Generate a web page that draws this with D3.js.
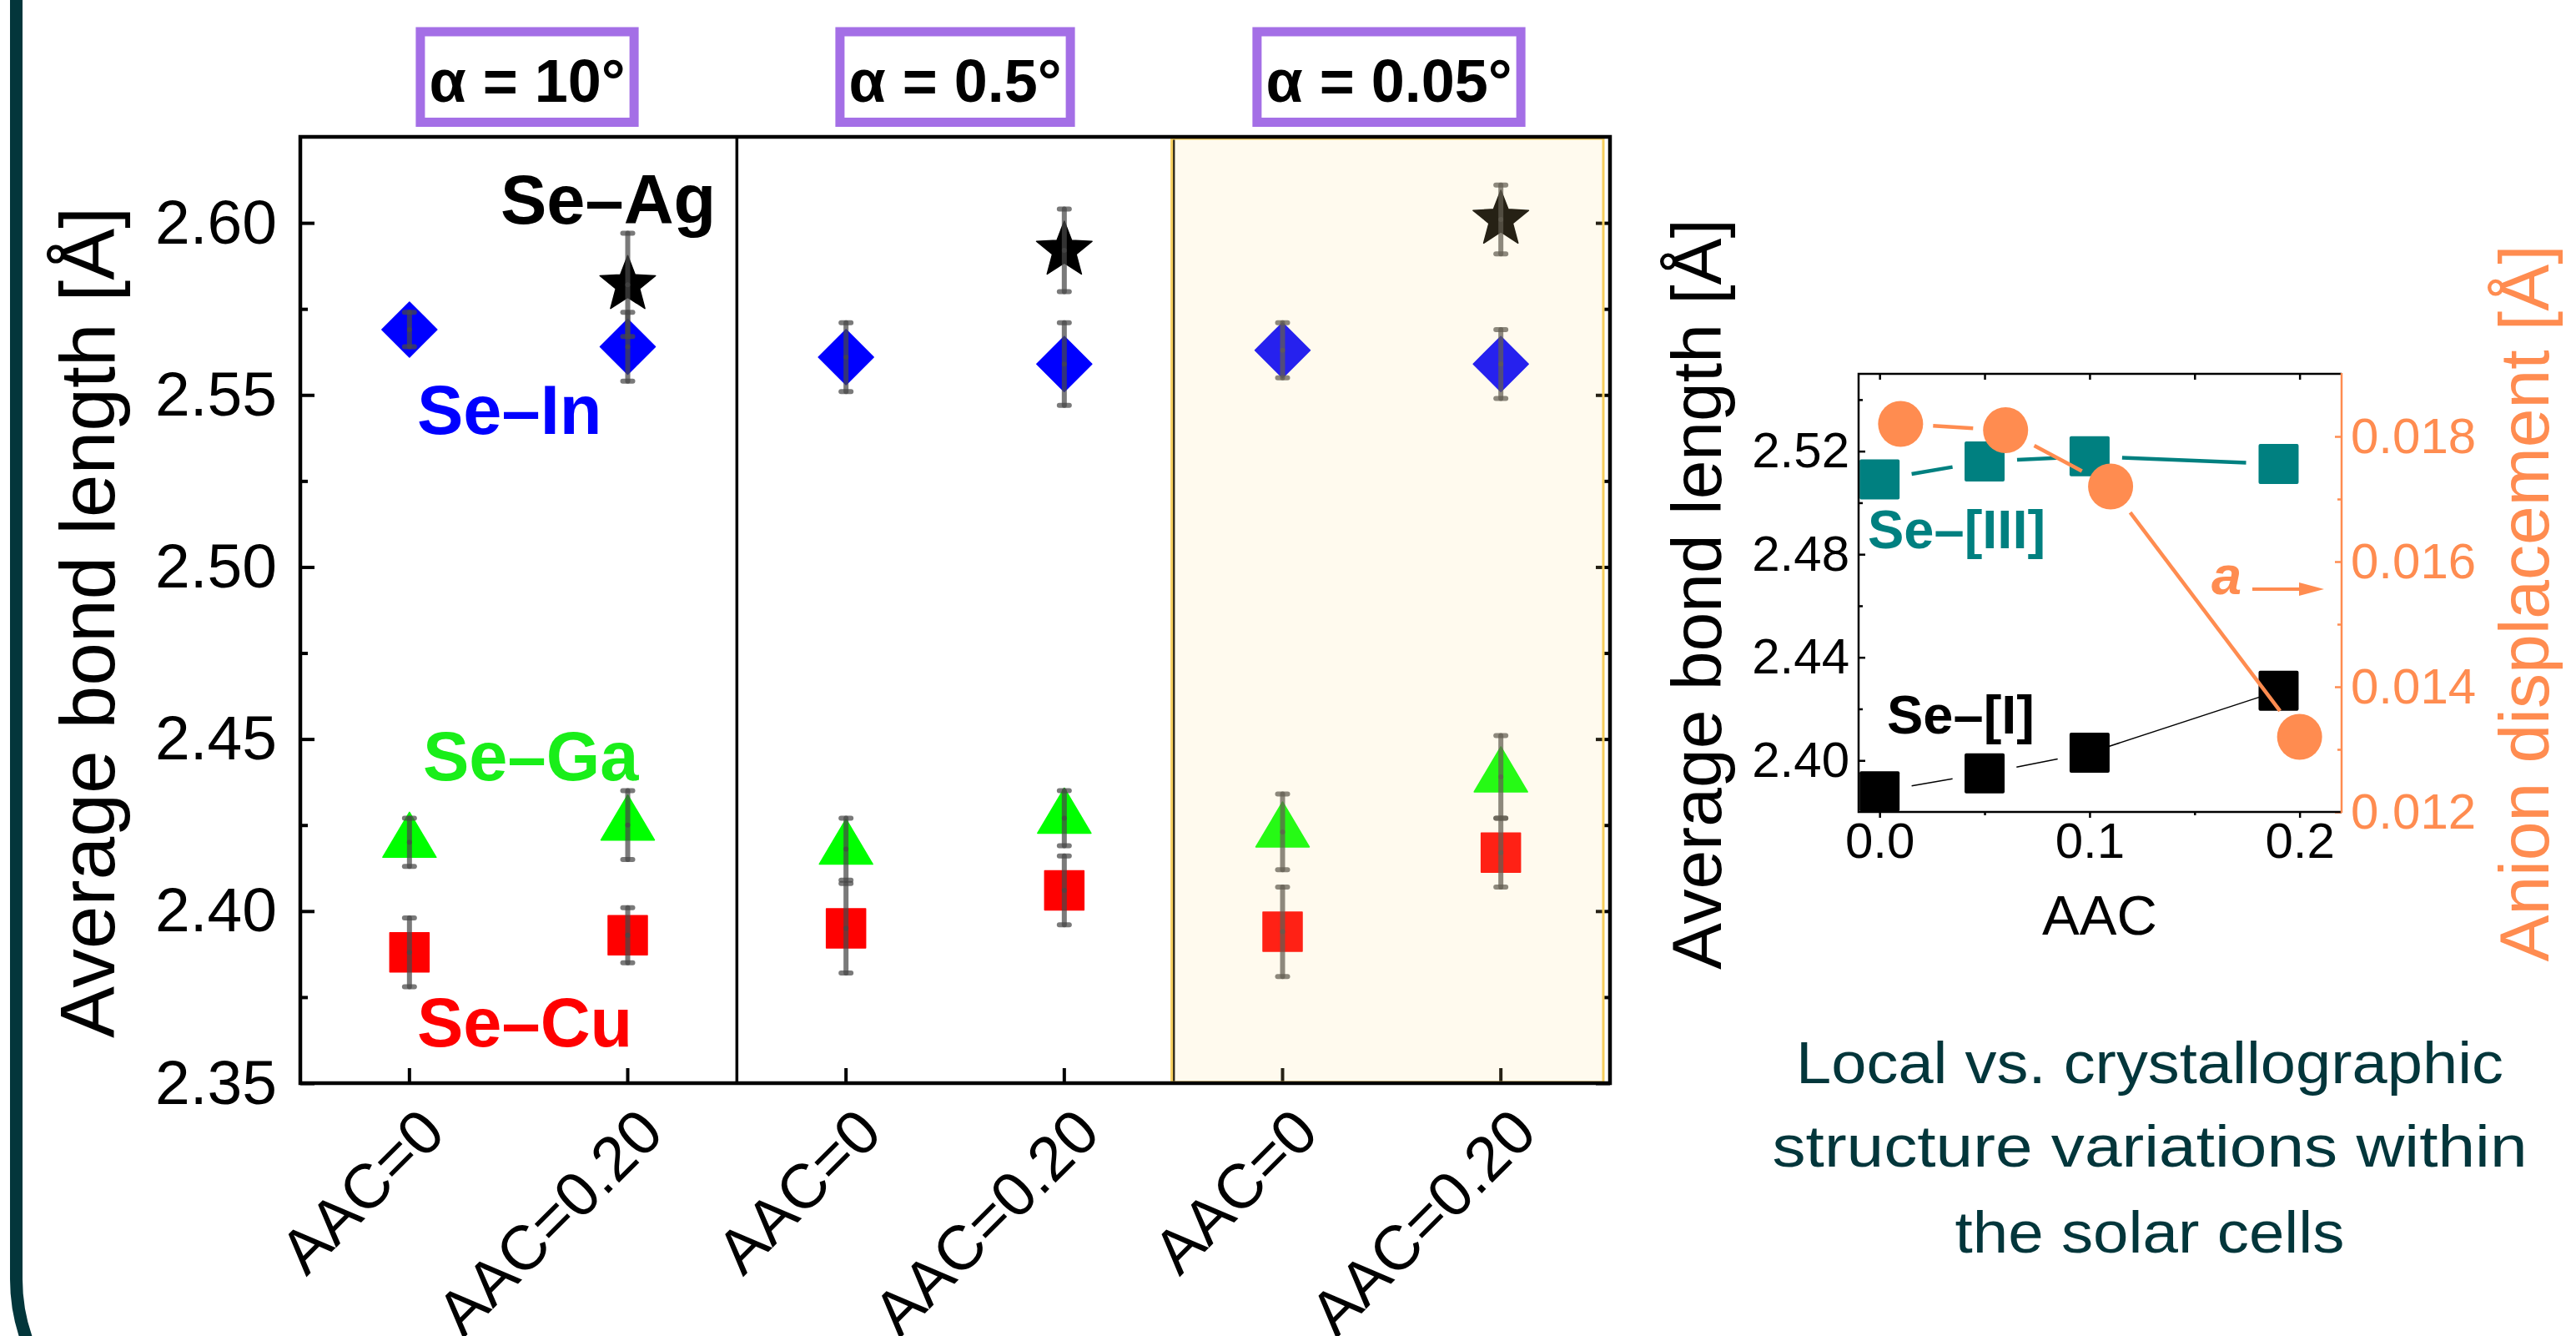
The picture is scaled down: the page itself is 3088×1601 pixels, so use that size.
<!DOCTYPE html>
<html>
<head>
<meta charset="utf-8">
<script src="https://cdn.jsdelivr.net/npm/d3@7"></script>
<style>
  html, body { margin: 0; padding: 0; background: #ffffff; }
  svg { display: block; }
  text { font-family: "Liberation Sans", Arial, sans-serif; }
</style>
</head>
<body>
<svg id="chart" width="3088" height="1601"></svg>
<script>
// ---------------- data: bond lengths per sample (main panel) ----------------
const categories  = ["AAC=0", "AAC=0.20", "AAC=0", "AAC=0.20", "AAC=0", "AAC=0.20"];
const panelTitles = ["α = 10°", "α = 0.5°", "α = 0.05°"];

const seIn    = [2.569, 2.564, 2.561, 2.559, 2.563, 2.559];
const seInErr = [0.005, 0.010, 0.010, 0.012, 0.008, 0.010];
const seAg    = [null, 2.582, null, 2.592, null, 2.601];
const seAgErr = [null, 0.015, null, 0.012, null, 0.010];
const seGa    = [2.420, 2.425, 2.418, 2.427, 2.423, 2.439];
const seGaErr = [0.007, 0.010, 0.009, 0.008, 0.011, 0.012];
const seCu    = [2.388, 2.393, 2.395, 2.406, 2.394, 2.417];
const seCuErr = [0.010, 0.008, 0.013, 0.010, 0.013, 0.010];

const yMajorTicks = [2.35, 2.40, 2.45, 2.50, 2.55, 2.60];
const yMinorTicks = [2.375, 2.425, 2.475, 2.525, 2.575];

// ---------------- data: inset (bond length / anion displacement vs AAC) ----------------
const aacSquares   = [0.00, 0.05, 0.10, 0.19];
const seIII        = [2.509, 2.516, 2.518, 2.515];
const seI          = [2.388, 2.395, 2.403, 2.427];
const aacCircles   = [0.01, 0.06, 0.11, 0.20];
const anionDisp    = [0.0182, 0.0181, 0.0172, 0.0132];

const insetLeftMajor  = [2.40, 2.44, 2.48, 2.52];
const insetLeftMinor  = [2.42, 2.46, 2.50, 2.54];
const insetRightMajor = [0.012, 0.014, 0.016, 0.018];
const insetRightMinor = [0.013, 0.015, 0.017];
const insetXMajor     = [0.0, 0.1, 0.2];
const insetXMinor     = [0.05, 0.15];

const captionLines = ["Local vs. crystallographic", "structure variations within", "the solar cells"];

// ---------------- setup ----------------
const svg = d3.select("#chart");
const FRAME = "#03363b";
const ORANGE = "#ff8c50";
const TEAL = "#008080";

// rounded frame running down the left edge
svg.append("rect")
  .attr("x", 19.5).attr("y", -400).attr("width", 3400).attr("height", 2149)
  .attr("rx", 216).attr("ry", 216)
  .attr("fill", "none").attr("stroke", FRAME).attr("stroke-width", 15);

// ---------------- main chart ----------------
const M = { left: 360, right: 1930, top: 164, bottom: 1298 };
const x = d3.scaleBand().domain(d3.range(categories.length)).range([M.left, M.right]);
const xc = i => x(i) + x.bandwidth() / 2;
const y = d3.scaleLinear().domain([2.35, 2.625]).range([M.bottom, M.top]);

const main = svg.append("g");

// panel dividers
[2, 4].forEach(i => {
  main.append("line")
    .attr("x1", x(i)).attr("x2", x(i)).attr("y1", M.top).attr("y2", M.bottom)
    .attr("stroke", "#000").attr("stroke-width", 3.5);
});

// marker shapes
const shapes = {
  diamond: () => { const p = d3.path(); p.moveTo(0, -33); p.lineTo(33, 0); p.lineTo(0, 33); p.lineTo(-33, 0); p.closePath(); return p.toString(); },
  square: () => { const p = d3.path(); p.rect(-23.5, -23.5, 47, 47); return p.toString(); },
  triangle: () => { const p = d3.path(); p.moveTo(0, -36); p.lineTo(32, 18); p.lineTo(-32, 18); p.closePath(); return p.toString(); },
  star: () => {
    const p = d3.path(), R = 35, r = 15;
    for (let k = 0; k < 10; k++) {
      const a = -Math.PI / 2 + k * Math.PI / 5, rr = k % 2 ? r : R;
      const px = rr * Math.cos(a), py = rr * Math.sin(a);
      k ? p.lineTo(px, py) : p.moveTo(px, py);
    }
    p.closePath(); return p.toString();
  }
};

const mainSeries = [
  { values: seCu, err: seCuErr, color: "#ff0000", shape: "square" },
  { values: seGa, err: seGaErr, color: "#00ff00", shape: "triangle" },
  { values: seIn, err: seInErr, color: "#0000ff", shape: "diamond" },
  { values: seAg, err: seAgErr, color: "#000000", shape: "star" }
];

const markerLayer = main.append("g");
const errLayer = main.append("g");

mainSeries.forEach(s => {
  const pts = s.values.map((v, i) => ({ i, v, e: s.err[i] })).filter(d => d.v != null);
  markerLayer.selectAll(null).data(pts).enter().append("path")
    .attr("d", shapes[s.shape]())
    .attr("transform", d => `translate(${xc(d.i)},${y(d.v)})`)
    .attr("fill", s.color)
    .attr("stroke", s.color).attr("stroke-width", 1.5).attr("stroke-linejoin", "round");

  const eb = errLayer.selectAll(null).data(pts).enter().append("g")
    .attr("stroke", "#474747").attr("stroke-opacity", 0.72)
    .attr("stroke-width", 6).attr("stroke-linecap", "round");
  // each half drawn separately, so the overlap marks the centre
  eb.append("line").attr("x1", d => xc(d.i)).attr("x2", d => xc(d.i))
    .attr("y1", d => y(d.v)).attr("y2", d => y(d.v + d.e));
  eb.append("line").attr("x1", d => xc(d.i)).attr("x2", d => xc(d.i))
    .attr("y1", d => y(d.v)).attr("y2", d => y(d.v - d.e));
  eb.append("line").attr("x1", d => xc(d.i) - 6).attr("x2", d => xc(d.i) + 6)
    .attr("y1", d => y(d.v + d.e)).attr("y2", d => y(d.v + d.e));
  eb.append("line").attr("x1", d => xc(d.i) - 6).attr("x2", d => xc(d.i) + 6)
    .attr("y1", d => y(d.v - d.e)).attr("y2", d => y(d.v - d.e));
});

// axes (ticks inward)
const axisFont = g => g.selectAll("text")
  .attr("font-family", "'Liberation Sans', Arial, sans-serif").attr("font-size", 75).attr("fill", "#000");

main.append("g").attr("transform", `translate(${M.left},0)`)
  .call(d3.axisLeft(y).tickValues(yMajorTicks).tickSize(-17).tickPadding(28).tickFormat(d3.format(".2f")))
  .call(g => g.select(".domain").remove())
  .call(g => g.selectAll("line").attr("stroke", "#000").attr("stroke-width", 4))
  .call(axisFont);
main.append("g").attr("transform", `translate(${M.left},0)`)
  .call(d3.axisLeft(y).tickValues(yMinorTicks).tickSize(-9).tickFormat(""))
  .call(g => g.select(".domain").remove())
  .call(g => g.selectAll("line").attr("stroke", "#000").attr("stroke-width", 4));
main.append("g").attr("transform", `translate(${M.right},0)`)
  .call(d3.axisRight(y).tickValues(yMajorTicks).tickSize(-17).tickFormat(""))
  .call(g => g.select(".domain").remove())
  .call(g => g.selectAll("line").attr("stroke", "#000").attr("stroke-width", 4));
main.append("g").attr("transform", `translate(${M.right},0)`)
  .call(d3.axisRight(y).tickValues(yMinorTicks).tickSize(-9).tickFormat(""))
  .call(g => g.select(".domain").remove())
  .call(g => g.selectAll("line").attr("stroke", "#000").attr("stroke-width", 4));

main.append("g").attr("transform", `translate(0,${M.bottom})`)
  .call(d3.axisBottom(x).tickSize(-18).tickFormat(i => categories[i]))
  .call(g => g.select(".domain").remove())
  .call(g => g.selectAll("line").attr("stroke", "#000").attr("stroke-width", 4))
  .call(axisFont)
  .call(g => g.selectAll("text")
    .attr("x", 0).attr("y", 0).attr("dy", 0)
    .attr("text-anchor", "end")
    .attr("transform", "translate(46,63) rotate(-45)"));

// shaded panel for the smallest incidence angle
main.append("rect")
  .attr("x", x(4) - 2).attr("y", M.top + 2)
  .attr("width", M.right - 8 - (x(4) - 2)).attr("height", M.bottom - M.top - 3)
  .attr("fill", "rgb(255,220,140)").attr("fill-opacity", 0.15)
  .attr("stroke", "#f6cf5e").attr("stroke-width", 3);

// axes frame
main.append("rect")
  .attr("x", M.left).attr("y", M.top).attr("width", M.right - M.left).attr("height", M.bottom - M.top)
  .attr("fill", "none").attr("stroke", "#000").attr("stroke-width", 4.5);

// panel headings in boxes
const headX = [632, 1145, 1665];
panelTitles.forEach((t, k) => {
  const g = main.append("g");
  const txt = g.append("text").attr("x", headX[k]).attr("y", 122)
    .attr("text-anchor", "middle").attr("font-size", 72).attr("font-weight", "bold")
    .attr("fill", "#000").text(t);
  const bb = txt.node().getBBox();
  g.insert("rect", "text")
    .attr("x", bb.x - 10.5).attr("y", 38).attr("width", bb.width + 21).attr("height", 108.5)
    .attr("fill", "#fff").attr("stroke", "#a46fe6").attr("stroke-width", 11);
});

// series labels
const seriesLabels = [
  { text: "Se–Ag", x: 600, y: 268, color: "#000000" },
  { text: "Se–In", x: 500, y: 520, color: "#0000ff" },
  { text: "Se–Ga", x: 507, y: 935, color: "#19ee19" },
  { text: "Se–Cu", x: 500, y: 1254, color: "#ff0000" }
];
main.selectAll(null).data(seriesLabels).enter().append("text")
  .attr("x", d => d.x).attr("y", d => d.y)
  .attr("font-size", 83).attr("font-weight", "bold").attr("fill", d => d.color)
  .text(d => d.text);

// y title
main.append("text")
  .attr("transform", "translate(137,746) rotate(-90)")
  .attr("text-anchor", "middle").attr("font-size", 93).attr("fill", "#000")
  .text("Average bond length [Å]");

// ---------------- inset ----------------
const I = { left: 2228, right: 2807, top: 448, bottom: 973 };
const xi = d3.scaleLinear().domain([-0.01, 0.22]).range([I.left, I.right]);
const yL = d3.scaleLinear().domain([2.38, 2.55]).range([I.bottom, I.top]);
const yR = d3.scaleLinear().domain([0.012, 0.019]).range([I.bottom, I.top]);
const inset = svg.append("g");

function gappedSegments(pts, gaps, color, width) {
  for (let k = 0; k < pts.length - 1; k++) {
    const [x1, y1] = pts[k], [x2, y2] = pts[k + 1];
    const L = Math.hypot(x2 - x1, y2 - y1), ux = (x2 - x1) / L, uy = (y2 - y1) / L, g = gaps[k];
    inset.append("line")
      .attr("x1", x1 + ux * g).attr("y1", y1 + uy * g)
      .attr("x2", x2 - ux * g).attr("y2", y2 - uy * g)
      .attr("stroke", color).attr("stroke-width", width);
  }
}

const ptsIII = aacSquares.map((a, i) => [xi(a), yL(seIII[i])]);
const ptsI = aacSquares.map((a, i) => [xi(a), yL(seI[i])]);
const ptsD = aacCircles.map((a, i) => [xi(a), yR(anionDisp[i])]);

gappedSegments(ptsIII, [39, 39, 39], TEAL, 4.5);
gappedSegments(ptsI, [39, 39, 0], "#000", 1.5);

inset.selectAll(null).data(ptsIII).enter().append("rect")
  .attr("x", d => d[0] - 24).attr("y", d => d[1] - 24).attr("width", 48).attr("height", 48)
  .attr("rx", 2).attr("fill", TEAL);
inset.selectAll(null).data(ptsI).enter().append("rect")
  .attr("x", d => d[0] - 24).attr("y", d => d[1] - 24).attr("width", 48).attr("height", 48)
  .attr("rx", 2).attr("fill", "#000");

gappedSegments(ptsD, [39, 39, 39], ORANGE, 4.5);
inset.selectAll(null).data(ptsD).enter().append("ellipse")
  .attr("cx", d => d[0]).attr("cy", d => d[1]).attr("rx", 27).attr("ry", 27.5)
  .attr("fill", ORANGE);

// inset axes
const insetFont = (g, color) => g.selectAll("text")
  .attr("font-family", "'Liberation Sans', Arial, sans-serif").attr("font-size", 60).attr("fill", color);
const strokeTicks = (g, color) => g.selectAll("line").attr("stroke", color).attr("stroke-width", 2.5);

inset.append("g").attr("transform", `translate(${I.left},0)`)
  .call(d3.axisLeft(yL).tickValues(insetLeftMajor).tickSize(-8).tickPadding(11).tickFormat(d3.format(".2f")))
  .call(g => g.select(".domain").remove()).call(g => strokeTicks(g, "#000")).call(g => insetFont(g, "#000"));
inset.append("g").attr("transform", `translate(${I.left},0)`)
  .call(d3.axisLeft(yL).tickValues(insetLeftMinor).tickSize(-5).tickFormat(""))
  .call(g => g.select(".domain").remove()).call(g => strokeTicks(g, "#000"));

inset.append("g").attr("transform", `translate(${I.right},0)`)
  .call(d3.axisRight(yR).tickValues(insetRightMajor).tickSize(-8).tickPadding(11).tickFormat(d3.format(".3f")))
  .call(g => g.select(".domain").remove()).call(g => strokeTicks(g, ORANGE)).call(g => insetFont(g, ORANGE));
inset.append("g").attr("transform", `translate(${I.right},0)`)
  .call(d3.axisRight(yR).tickValues(insetRightMinor).tickSize(-5).tickFormat(""))
  .call(g => g.select(".domain").remove()).call(g => strokeTicks(g, ORANGE));

inset.append("g").attr("transform", `translate(0,${I.bottom})`)
  .call(d3.axisBottom(xi).tickValues(insetXMajor).tickSize(7).tickPadding(5).tickFormat(d3.format(".1f")))
  .call(g => g.select(".domain").remove()).call(g => strokeTicks(g, "#000")).call(g => insetFont(g, "#000"));
inset.append("g").attr("transform", `translate(0,${I.bottom})`)
  .call(d3.axisBottom(xi).tickValues(insetXMinor).tickSize(4).tickFormat(""))
  .call(g => g.select(".domain").remove()).call(g => strokeTicks(g, "#000"));
inset.append("g").attr("transform", `translate(0,${I.top})`)
  .call(d3.axisTop(xi).tickValues(insetXMajor.concat(insetXMinor)).tickSize(-7).tickFormat(""))
  .call(g => g.select(".domain").remove()).call(g => strokeTicks(g, "#000"));

inset.append("path")
  .attr("d", `M${I.right},${I.top}H${I.left}V${I.bottom}H${I.right}`)
  .attr("fill", "none").attr("stroke", "#000").attr("stroke-width", 2.5);
inset.append("line")
  .attr("x1", I.right).attr("x2", I.right).attr("y1", I.top - 1).attr("y2", I.bottom + 1)
  .attr("stroke", ORANGE).attr("stroke-width", 2.5);

// inset labels
inset.append("text").attr("x", 2239).attr("y", 657)
  .attr("font-size", 65).attr("font-weight", "bold").attr("fill", TEAL).text("Se–[III]");
inset.append("text").attr("x", 2262).attr("y", 879)
  .attr("font-size", 65).attr("font-weight", "bold").attr("fill", "#000").text("Se–[I]");
inset.append("text").attr("x", 2651).attr("y", 712)
  .attr("font-size", 65).attr("font-weight", "bold").attr("font-style", "italic")
  .attr("fill", ORANGE).text("a");
inset.append("line").attr("x1", 2700).attr("x2", 2760).attr("y1", 706).attr("y2", 706)
  .attr("stroke", ORANGE).attr("stroke-width", 4);
inset.append("path").attr("d", "M2756,698L2786,706L2756,714Z").attr("fill", ORANGE);

inset.append("text").attr("x", 2517).attr("y", 1120)
  .attr("text-anchor", "middle").attr("font-size", 67).attr("fill", "#000").text("AAC");
inset.append("text").attr("transform", "translate(2063,712) rotate(-90)")
  .attr("text-anchor", "middle").attr("font-size", 84).attr("fill", "#000")
  .text("Average bond length [Å]");
inset.append("text").attr("transform", "translate(3055,723) rotate(-90)")
  .attr("text-anchor", "middle").attr("font-size", 84).attr("fill", ORANGE)
  .text("Anion displacement [Å]");

// caption
const capBase = [1298, 1398, 1501];
const capWidth = [848, 905, 467];
svg.selectAll(null).data(captionLines).enter().append("text")
  .attr("x", 2577).attr("y", (d, i) => capBase[i])
  .attr("text-anchor", "middle")
  .attr("font-family", "'Open Sans', 'Noto Sans', sans-serif")
  .attr("font-size", 70).attr("fill", FRAME)
  .attr("textLength", (d, i) => capWidth[i]).attr("lengthAdjust", "spacingAndGlyphs")
  .text(d => d);
</script>
</body>
</html>
